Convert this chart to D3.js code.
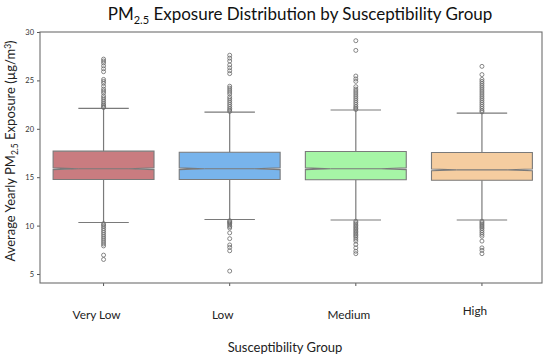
<!DOCTYPE html>
<html><head><meta charset="utf-8">
<script src="https://cdn.jsdelivr.net/npm/d3@7"></script>
<style>body{margin:0;background:#fff}svg{display:block}text{font-family:Lato,"Open Sans",sans-serif}</style>
</head><body><svg id="c" width="550" height="359"></svg>
<script>
const categories = ["Very Low", "Low", "Medium", "High"];
const colors = ["#c97c80", "#78b4ec", "#a6f5a6", "#f5cda0"];
const q1 = [14.76, 14.76, 14.73, 14.69];
const medians = [15.87, 15.87, 15.87, 15.76];
const q3 = [17.69, 17.58, 17.65, 17.55];
const whiskerLow = [10.32, 10.63, 10.58, 10.58];
const whiskerHigh = [22.1, 21.72, 21.94, 21.62];
const notchHalf = [0.09, 0.09, 0.09, 0.09];
const outliersVeryLow = [27.2,27.0,26.8,26.5,26.2,25.9,25.1,24.9,24.7,24.4,24.1,23.9,23.7,23.4,23.2,23.0,22.8,22.6,22.45,22.3,22.2,
  10.2,10.05,9.9,9.7,9.5,9.3,9.1,8.9,8.7,8.5,8.3,8.1,7.9,6.95,6.5];
const outliersLow = [27.6,27.3,27.0,26.6,26.3,26.0,25.7,24.4,24.2,24.0,23.8,23.6,23.3,23.1,22.9,22.7,22.5,22.3,22.1,21.95,21.8,
  10.5,10.4,10.3,10.2,10.05,9.9,9.75,9.25,8.65,8.0,7.75,7.4,5.3];
const outliersMedium = [29.1,28.1,25.45,25.15,24.9,24.35,24.1,23.9,23.7,23.5,23.3,23.1,22.9,22.7,22.5,22.3,22.15,22.0,
  10.45,10.3,10.15,10.0,9.85,9.7,9.55,9.4,9.25,9.1,8.95,8.8,8.6,8.4,8.05,7.7,7.35,7.1];
const outliersHigh = [26.45,25.6,25.1,24.9,24.7,24.5,24.3,24.1,23.9,23.7,23.5,23.3,23.1,22.9,22.7,22.5,22.3,22.1,21.9,21.75,
  10.45,10.3,10.15,10.0,9.85,9.7,9.5,9.3,9.1,8.9,8.4,7.7,7.45,7.1];
const outliers = [outliersVeryLow, outliersLow, outliersMedium, outliersHigh];
const yTicks = [5, 10, 15, 20, 25, 30];

const svg = d3.select("#c");
const frame = {left: 40, right: 542, top: 32, bottom: 283};
const x = d3.scaleBand().domain(categories).range([40.5, 545]).paddingInner(0.2).paddingOuter(0.1);
const y = d3.scaleLinear().domain([4.07, 30]).range([frame.bottom, frame.top]);
const bw = x.bandwidth();
const edge = "#7a7a7a";

// y axis
const yAxis = svg.append("g").attr("transform", `translate(${frame.left},0)`)
  .call(d3.axisLeft(y).tickValues(yTicks).tickSize(3).tickPadding(3));
yAxis.select(".domain").remove();
yAxis.selectAll("line").attr("stroke", "#555");
yAxis.selectAll("text").attr("font-size", 7.5).attr("fill", "#333");

// x axis ticks
const xAxis = svg.append("g").attr("transform", `translate(0,${frame.bottom})`)
  .call(d3.axisBottom(x).tickSize(3).tickFormat(""));
xAxis.select(".domain").remove();
xAxis.selectAll("line").attr("stroke", "#555");

// frame
svg.append("rect").attr("x", frame.left).attr("y", frame.top)
  .attr("width", frame.right - frame.left).attr("height", frame.bottom - frame.top)
  .attr("fill", "none").attr("stroke", "#6e6e6e").attr("stroke-width", 1.1);

categories.forEach((c, i) => {
  const cx = x(c) + bw / 2;
  const x0 = x(c), x1 = x(c) + bw;
  const g = svg.append("g");
  // whiskers
  g.append("line").attr("x1", cx).attr("x2", cx).attr("y1", y(q3[i])).attr("y2", y(whiskerHigh[i])).attr("stroke", edge).attr("stroke-width", 1.2);
  g.append("line").attr("x1", cx).attr("x2", cx).attr("y1", y(q1[i])).attr("y2", y(whiskerLow[i])).attr("stroke", edge).attr("stroke-width", 1.2);
  g.append("line").attr("x1", cx - bw / 4).attr("x2", cx + bw / 4).attr("y1", y(whiskerHigh[i])).attr("y2", y(whiskerHigh[i])).attr("stroke", edge).attr("stroke-width", 1.2);
  g.append("line").attr("x1", cx - bw / 4).attr("x2", cx + bw / 4).attr("y1", y(whiskerLow[i])).attr("y2", y(whiskerLow[i])).attr("stroke", edge).attr("stroke-width", 1.2);
  // notched box
  const inset = bw / 4;
  const nlo = y(medians[i] - notchHalf[i]), nhi = y(medians[i] + notchHalf[i]), m = y(medians[i]);
  const p = d3.path();
  p.moveTo(x0, y(q1[i])); p.lineTo(x1, y(q1[i])); p.lineTo(x1, nlo); p.lineTo(x1 - inset, m);
  p.lineTo(x1, nhi); p.lineTo(x1, y(q3[i])); p.lineTo(x0, y(q3[i])); p.lineTo(x0, nhi);
  p.lineTo(x0 + inset, m); p.lineTo(x0, nlo); p.closePath();
  g.append("path").attr("d", p.toString()).attr("fill", colors[i]).attr("stroke", edge).attr("stroke-width", 1.1);
  g.append("line").attr("x1", x0 + inset).attr("x2", x1 - inset).attr("y1", m).attr("y2", m).attr("stroke", edge).attr("stroke-width", 1.1);
  // outliers
  g.selectAll("circle").data(outliers[i]).join("circle")
    .attr("cx", cx).attr("cy", d => y(d)).attr("r", 2)
    .attr("fill", "none").attr("stroke", "#6a6a6a").attr("stroke-width", 0.8);
  // category label
  svg.append("text").attr("x", cx - 7).attr("y", c === "High" ? 315 : 318.5).attr("text-anchor", "middle")
    .attr("font-size", 11.8).attr("fill", "#222").text(c);
});

// title
const t = svg.append("text").attr("x", 300).attr("y", 20).attr("text-anchor", "middle").attr("font-size", 17).attr("fill", "#111");
t.append("tspan").text("PM");
t.append("tspan").attr("font-size", 11).attr("dy", 4).text("2.5");
t.append("tspan").attr("dy", -4).text(" Exposure Distribution by Susceptibility Group");

// y title
const yt = svg.append("text").attr("transform", "translate(15,151) rotate(-90)").attr("text-anchor", "middle").attr("font-size", 13).attr("fill", "#222");
yt.append("tspan").text("Average Yearly PM");
yt.append("tspan").attr("font-size", 8.5).attr("dy", 3).text("2.5");
yt.append("tspan").attr("dy", -3).text(" Exposure (µg/m");
yt.append("tspan").attr("font-size", 8.5).attr("dy", -4).text("3");
yt.append("tspan").attr("dy", 4).text(")");

// x title
svg.append("text").attr("x", 285).attr("y", 352).attr("text-anchor", "middle").attr("font-size", 13).attr("fill", "#222").text("Susceptibility Group");
</script></body></html>
